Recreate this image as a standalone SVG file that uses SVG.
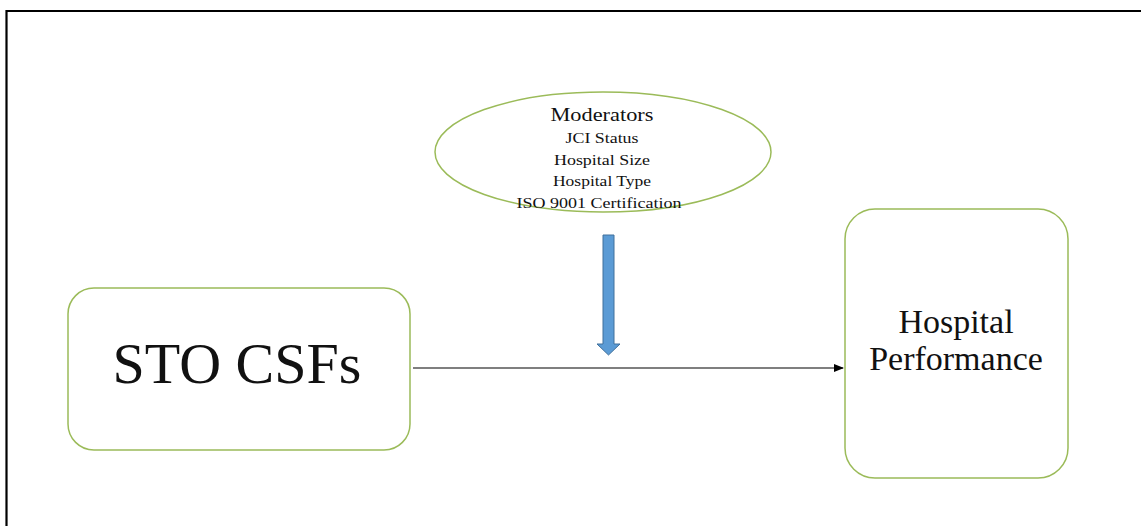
<svg xmlns="http://www.w3.org/2000/svg" width="1141" height="526" viewBox="0 0 1141 526">
  <style>
    .box { fill: #ffffff; stroke: #9bbb59; stroke-width: 1.5; }
    .serif { font-family: "Liberation Serif", "Times New Roman", serif; fill: #111111; text-anchor: middle; }
    .conn { stroke: #000000; stroke-width: 1.2; fill: none; }
  </style>
  <defs>
    <marker id="arrowHead" markerWidth="10" markerHeight="8" refX="9" refY="4" orient="auto" markerUnits="userSpaceOnUse">
      <path d="M0,0 L10,4 L0,8 Z" fill="#000000"/>
    </marker>
  </defs>

  <rect width="1141" height="526" fill="#ffffff"/>

  <!-- page frame (top and left edges) -->
  <path d="M6.5,526 L6.5,11 L1141,11" fill="none" stroke="#000000" stroke-width="2.2"/>

  <!-- moderators ellipse -->
  <g id="moderators">
    <ellipse cx="603" cy="152" rx="168" ry="60" class="box"/>
    <text class="serif" x="602" y="121" font-size="19" textLength="103" lengthAdjust="spacingAndGlyphs">Moderators</text>
    <text class="serif" x="602" y="143" font-size="15" textLength="73" lengthAdjust="spacingAndGlyphs">JCI Status</text>
    <text class="serif" x="602" y="165" font-size="15" textLength="96" lengthAdjust="spacingAndGlyphs">Hospital Size</text>
    <text class="serif" x="602" y="186" font-size="15" textLength="98" lengthAdjust="spacingAndGlyphs">Hospital Type</text>
    <text class="serif" x="599" y="208" font-size="15" textLength="165" lengthAdjust="spacingAndGlyphs">ISO 9001 Certification</text>
  </g>

  <!-- STO CSFs box -->
  <g id="sto-csfs">
    <rect x="68" y="288" width="342" height="162" rx="26" ry="26" class="box"/>
    <text class="serif" x="237" y="383" font-size="58">STO CSFs</text>
  </g>

  <!-- Hospital Performance box -->
  <g id="hospital-performance">
    <rect x="845" y="209" width="223" height="269" rx="30" ry="30" class="box"/>
    <text class="serif" x="956" y="333" font-size="34">Hospital</text>
    <text class="serif" x="956" y="370" font-size="34">Performance</text>
  </g>

  <g id="connectors">
    <!-- main relationship -->
    <line x1="413" y1="368" x2="843" y2="368" class="conn" marker-end="url(#arrowHead)"/>
    <!-- moderating effect -->
    <path d="M603,235 L614,235 L614,344 L620,344 L608.5,355 L597,344 L603,344 Z" fill="#5b9bd5" stroke="#41719c" stroke-width="1"/>
  </g>
</svg>
